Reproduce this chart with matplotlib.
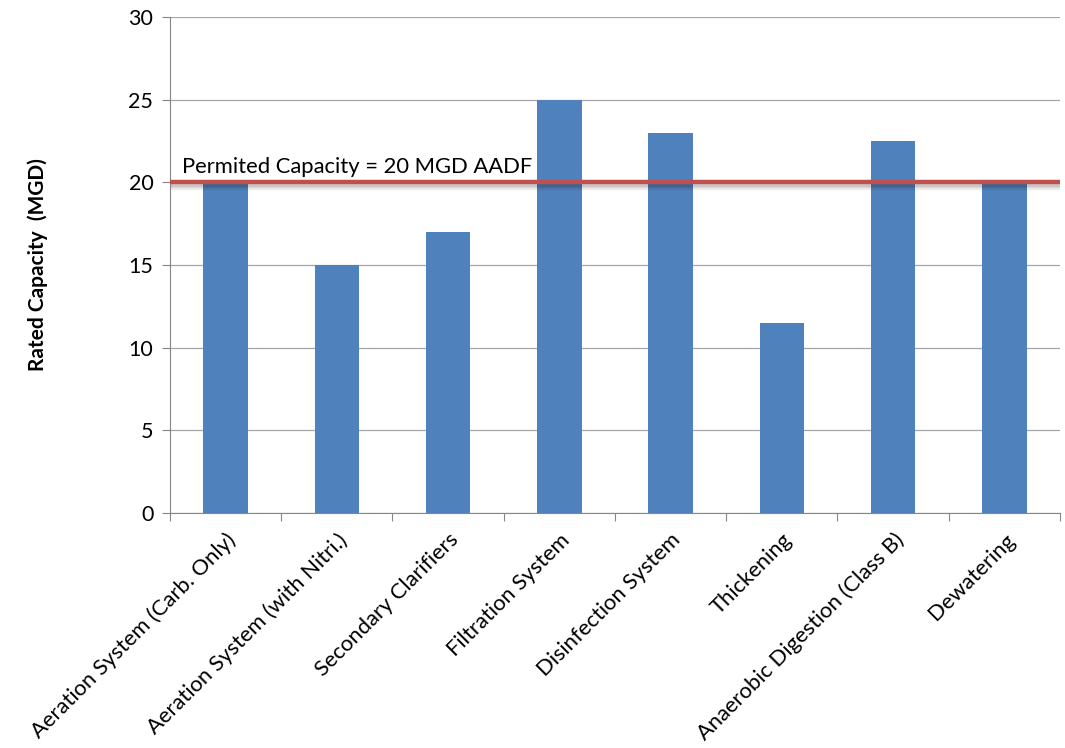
import matplotlib
matplotlib.use("Agg")
import matplotlib.pyplot as plt
import matplotlib.patheffects as pe
import numpy as np

# Rated capacity by treatment process (MGD)
processes = [
    "Aeration System (Carb. Only)",
    "Aeration System (with Nitri.)",
    "Secondary Clarifiers",
    "Filtration System",
    "Disinfection System",
    "Thickening",
    "Anaerobic Digestion (Class B)",
    "Dewatering",
]
capacity = [20, 15, 17, 25, 23, 11.5, 22.5, 20]
permitted = 20

plt.rcParams["font.family"] = ["Lato", "DejaVu Sans"]

fig = plt.figure(figsize=(10.65, 7.48), dpi=100)
ax = fig.add_axes([0.1596, 0.3142, 0.8357, 0.6631])

x = np.arange(len(processes))
ax.bar(x, capacity, width=0.4, color="#4F81BD", zorder=2)

# permitted capacity line with a soft drop shadow
shadow = [pe.SimpleLineShadow(offset=(0.5, -d), shadow_color="#000000", alpha=0.07)
          for d in (1.0, 2.0, 3.0, 4.0)]
ax.plot([-0.5, 7.5], [permitted, permitted], color="#C0504D", lw=3.2, zorder=3,
        solid_capstyle="butt", path_effects=shadow + [pe.Normal()])
ax.text(-0.39, permitted + 0.35, f"Permited Capacity = {permitted} MGD AADF",
        fontsize=15.8, color="black", ha="left", va="bottom", zorder=4)

ax.set_xlim(-0.5, 7.5)
ax.set_ylim(0, 30)
ax.set_yticks(range(0, 31, 5))
ax.yaxis.grid(True, color="#A6A6A6", linewidth=0.9, zorder=0)
ax.set_axisbelow(True)

# category ticks sit between bars, labels centred under bars
ax.set_xticks(np.arange(-0.5, 8, 1))
ax.set_xticklabels([])
ax.set_xticks(x, minor=True)
ax.set_xticklabels(processes, minor=True, rotation=45, ha="right",
                   rotation_mode="anchor", fontsize=15.8)
ax.tick_params(axis="x", which="minor", length=0, pad=12)
ax.tick_params(axis="x", which="major", length=6, color="#868686", direction="out")
ax.tick_params(axis="y", length=6, color="#868686", direction="out", labelsize=15.5, pad=6)

for side in ["top", "right"]:
    ax.spines[side].set_visible(False)
for side in ["left", "bottom"]:
    ax.spines[side].set_color("#868686")

ax.set_ylabel("Rated Capacity  (MGD)", fontsize=15, fontweight="bold", labelpad=58)

fig.savefig("out.png", dpi=100, facecolor="white")
